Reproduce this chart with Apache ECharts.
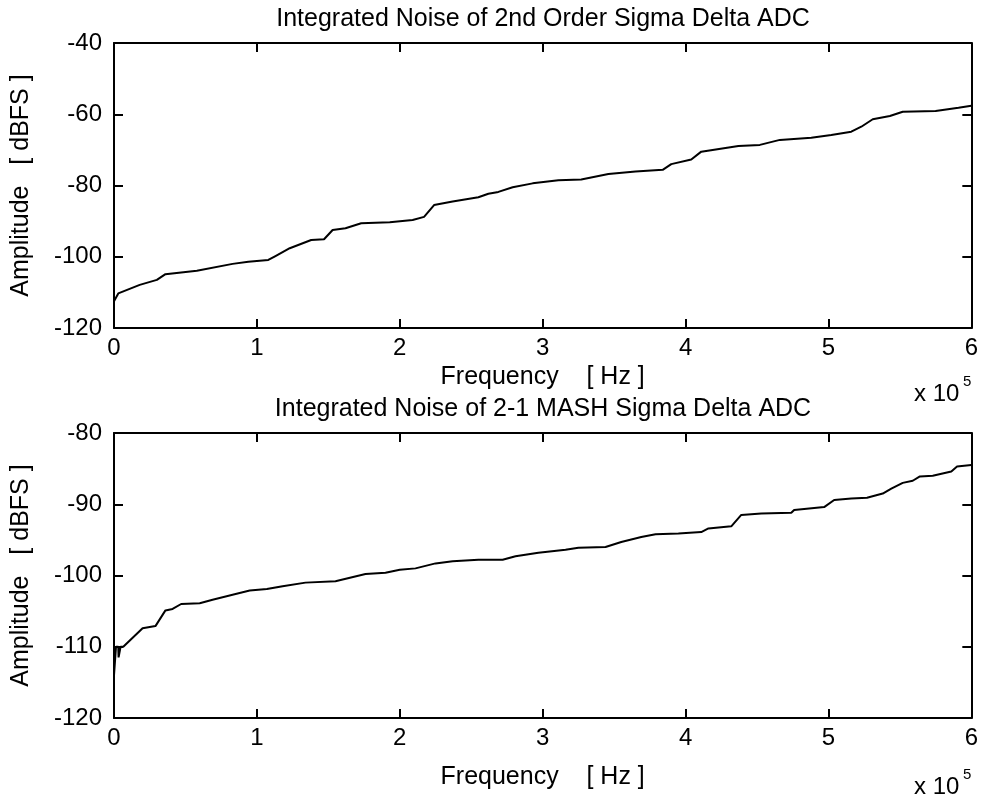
<!DOCTYPE html>
<html>
<head>
<meta charset="utf-8">
<script src="https://cdn.jsdelivr.net/npm/echarts@6/dist/echarts.min.js"></script>
<style>
html,body{margin:0;padding:0;background:#fff;}
#chart{width:981px;height:802px;}
</style>
</head>
<body>
<div id="chart"></div>
<script>
// Frequency in Hz, amplitude in dBFS
var titles = ['Integrated Noise of 2nd Order Sigma Delta ADC', 'Integrated Noise of 2-1 MASH Sigma Delta ADC'];
var xTicks = [0, 1, 2, 3, 4, 5, 6]; // x 10^5 Hz
var topYTicks = [-120, -100, -80, -60, -40];
var botYTicks = [-120, -110, -100, -90, -80];

var topFreq = [0, 0, 3000, 18000, 30000, 36000, 58000, 83000, 94000, 108000, 113000, 123000, 138000, 147000, 153000, 162000, 173000, 193000, 209000, 217000, 224000, 237000, 255000, 262000, 269000, 279000, 293000, 311000, 327000, 346000, 365000, 384000, 390000, 404000, 411000, 437000, 452000, 466000, 488000, 502000, 516000, 523000, 531000, 543000, 552000, 575000, 591000, 600000];
var topAmp  = [-120, -112.5, -110.3, -107.9, -106.5, -104.9, -103.9, -102.0, -101.4, -100.9, -99.8, -97.6, -95.3, -95.1, -92.5, -92.0, -90.6, -90.3, -89.7, -88.8, -85.5, -84.5, -83.3, -82.3, -81.8, -80.5, -79.4, -78.5, -78.3, -76.8, -76.1, -75.6, -74.0, -72.7, -70.5, -68.9, -68.6, -67.2, -66.6, -65.8, -64.9, -63.5, -61.4, -60.5, -59.3, -59.1, -58.2, -57.6];

var botFreq = [0, 0, 1400, 3000, 3200, 4600, 6500, 7700, 20000, 29000, 36000, 41000, 47000, 60000, 69000, 83000, 95000, 107000, 118000, 134000, 155000, 176000, 190000, 200000, 211000, 225000, 237000, 255000, 272000, 281000, 297000, 316000, 325000, 344000, 355000, 369000, 379000, 395000, 411000, 416000, 432000, 439000, 453000, 474000, 476000, 497000, 504000, 516000, 527000, 538000, 544000, 552000, 559000, 564000, 573000, 586000, 590000, 600000];
var botAmp  = [-120, -114, -110, -110, -111.5, -110, -110, -109.9, -107.4, -107.1, -104.9, -104.7, -104.0, -103.9, -103.4, -102.7, -102.1, -101.9, -101.5, -101.0, -100.8, -99.8, -99.6, -99.2, -99.0, -98.3, -98.0, -97.8, -97.8, -97.3, -96.8, -96.4, -96.1, -96.0, -95.3, -94.6, -94.2, -94.1, -93.9, -93.4, -93.1, -91.5, -91.3, -91.2, -90.8, -90.4, -89.4, -89.2, -89.1, -88.5, -87.8, -87.0, -86.7, -86.1, -86.0, -85.4, -84.7, -84.5];

function pairs(xs, ys){ var o=[]; for(var i=0;i<xs.length;i++) o.push([xs[i], ys[i]]); return o; }

var FONT = 'Liberation Sans';
var chart = echarts.init(document.getElementById('chart'));

function xAx(gi, showLabel, pos, gap){
  return {
    type:'value', gridIndex:gi, min:0, max:600000, interval:100000, position:pos,
    axisLine:{show:true, onZero:false, lineStyle:{color:'#000', width:2}},
    axisTick:{show:true, inside:true, length:9, lineStyle:{color:'#000', width:2}},
    axisLabel:{show:showLabel, color:'#000', fontFamily:FONT, fontSize:24, margin:8,
      formatter:function(v){ return String(Math.round(v/100000)); }},
    splitLine:{show:false},
    name: showLabel ? 'Frequency    [ Hz ]' : '',
    nameLocation:'middle', nameGap:gap || 40,
    nameTextStyle:{color:'#000', fontFamily:FONT, fontSize:25}
  };
}
function yAx(gi, showLabel, pos, ymin, ymax, step){
  return {
    type:'value', gridIndex:gi, min:ymin, max:ymax, interval:step, position:pos,
    axisLine:{show:true, onZero:false, lineStyle:{color:'#000', width:2}},
    axisTick:{show:true, inside:true, length:9, lineStyle:{color:'#000', width:2}},
    axisLabel:{show:showLabel, color:'#000', fontFamily:FONT, fontSize:24, margin:12},
    splitLine:{show:false},
    name: showLabel ? 'Amplitude   [ dBFS ]' : '',
    nameLocation:'middle', nameGap:80, nameRotate:90,
    nameTextStyle:{color:'#000', fontFamily:FONT, fontSize:25}
  };
}

chart.setOption({
  backgroundColor:'#fff',
  animation:false,
  title:[
    {text:titles[0], left:538, top:2, textAlign:'center', textStyle:{color:'#000', fontFamily:FONT, fontSize:25, fontWeight:'normal'}},
    {text:titles[1], left:538, top:392, textAlign:'center', textStyle:{color:'#000', fontFamily:FONT, fontSize:25, fontWeight:'normal'}}
  ],
  grid:[
    {left:114, top:43, width:860, height:285},
    {left:114, top:433, width:860, height:285}
  ],
  xAxis:[ xAx(0,true,'bottom',37), xAx(0,false,'top'), xAx(1,true,'bottom',47), xAx(1,false,'top') ],
  yAxis:[ yAx(0,true,'left',-120,-40,20), yAx(0,false,'right',-120,-40,20), yAx(1,true,'left',-120,-80,10), yAx(1,false,'right',-120,-80,10) ],
  series:[
    {type:'line', xAxisIndex:0, yAxisIndex:0, data:pairs(topFreq, topAmp), showSymbol:false, symbol:'none', lineStyle:{color:'#000', width:2}, clip:true},
    {type:'line', xAxisIndex:2, yAxisIndex:2, data:pairs(botFreq, botAmp), showSymbol:false, symbol:'none', lineStyle:{color:'#000', width:2}, clip:true}
  ],
  graphic:[
    {type:'text', left:914, top:382, style:{text:'x 10', fill:'#000', font:'24px "Liberation Sans"'}},
    {type:'text', left:963, top:374, style:{text:'5', fill:'#000', font:'15px "Liberation Sans"'}},
    {type:'text', left:914, top:775, style:{text:'x 10', fill:'#000', font:'24px "Liberation Sans"'}},
    {type:'text', left:963, top:767, style:{text:'5', fill:'#000', font:'15px "Liberation Sans"'}}
  ]
});
</script>
</body>
</html>
